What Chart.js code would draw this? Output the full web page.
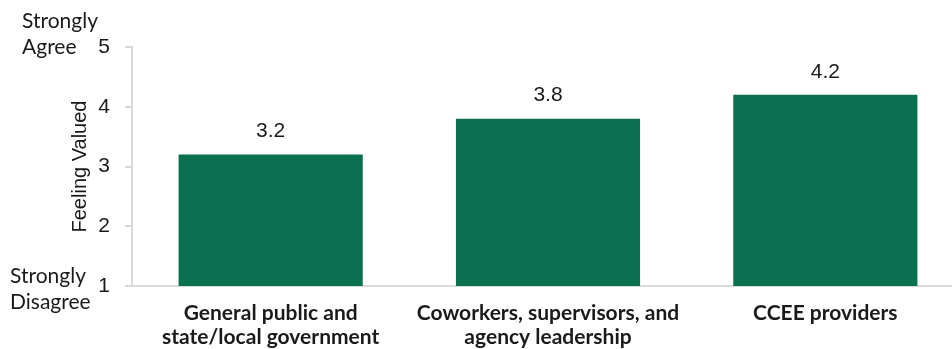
<!DOCTYPE html>
<html>
<head>
<meta charset="utf-8">
<script src="https://cdn.jsdelivr.net/npm/chart.js@4/dist/chart.umd.min.js"></script>
<style>
  html, body { margin: 0; padding: 0; background: #fff; overflow: hidden; }
  #wrap { width: 964px; height: 349px; }
</style>
</head>
<body>
<div id="wrap"><canvas id="valuedChart" width="964" height="349"></canvas></div>
<script>
// dados do gráfico
const categories = [
  ['General public and', 'state/local government'],
  ['Coworkers, supervisors, and', 'agency leadership'],
  ['CCEE providers']
];
const feelingValued = [3.2, 3.8, 4.2];
const yTicks = [1, 2, 3, 4, 5];
const scaleEnds = { top: ['Strongly', 'Agree'], bottom: ['Strongly', 'Disagree'] };

const textColor = '#1a1a1a';
const axisColor = '#d9d9d9';
const barColor = '#0b7050';

// rótulos de valor acima das barras
const valueLabels = {
  id: 'valueLabels',
  afterDatasetsDraw(chart) {
    const ctx = chart.ctx;
    const meta = chart.getDatasetMeta(0);
    ctx.save();
    ctx.font = '21px "Liberation Sans", Arial, sans-serif';
    ctx.fillStyle = textColor;
    ctx.textAlign = 'center';
    ctx.textBaseline = 'middle';
    meta.data.forEach((bar, i) => {
      ctx.fillText(feelingValued[i].toFixed(1), bar.x, bar.y - 23);
    });
    ctx.restore();
  }
};

// "Strongly Agree" / "Strongly Disagree" ao lado do eixo
const scaleEndLabels = {
  id: 'scaleEndLabels',
  afterDraw(chart) {
    const ctx = chart.ctx;
    const y = chart.scales.y;
    const yTop = y.getPixelForValue(yTicks[yTicks.length - 1]);
    const yBot = y.getPixelForValue(yTicks[0]);
    ctx.save();
    ctx.font = '21px Lato, "Open Sans", sans-serif';
    ctx.fillStyle = textColor;
    ctx.textAlign = 'left';
    ctx.textBaseline = 'middle';
    ctx.fillText(scaleEnds.top[0], 22, yTop - 26);
    ctx.fillText(scaleEnds.top[1], 22, yTop);
    ctx.fillText(scaleEnds.bottom[0], 10, yBot - 10);
    ctx.fillText(scaleEnds.bottom[1], 10, yBot + 16);
    ctx.restore();
  }
};

new Chart(document.getElementById('valuedChart'), {
  type: 'bar',
  data: {
    labels: categories,
    datasets: [{
      data: feelingValued,
      backgroundColor: barColor,
      borderWidth: 0,
      categoryPercentage: 1,
      barPercentage: 0.664
    }]
  },
  options: {
    responsive: false,
    animation: false,
    layout: { padding: { top: 47, left: 0, right: 0, bottom: 0 } },
    plugins: {
      legend: { display: false },
      tooltip: { enabled: false }
    },
    scales: {
      x: {
        grid: { display: false, drawTicks: false },
        border: { display: true, color: axisColor, width: 2 },
        ticks: {
          color: textColor,
          padding: 15,
          maxRotation: 0,
          autoSkip: false,
          font: { family: 'Lato', size: 21, weight: 'bold', lineHeight: 1.15 }
        },
        afterFit: (scale) => { scale.height = 63; }
      },
      y: {
        min: 1,
        max: 5,
        afterBuildTicks: (scale) => { scale.ticks = yTicks.map(v => ({ value: v })); },
        grid: {
          drawOnChartArea: false,
          drawTicks: true,
          tickLength: 7,
          color: axisColor,
          lineWidth: 2
        },
        border: { display: true, color: axisColor, width: 2 },
        ticks: {
          color: textColor,
          padding: 15,
          font: { family: '"Liberation Sans", Arial, sans-serif', size: 21 }
        },
        title: {
          display: true,
          text: 'Feeling Valued',
          color: textColor,
          font: { family: '"Liberation Sans", Arial, sans-serif', size: 20 },
          padding: { top: 68, bottom: 0 }
        },
        afterFit: (scale) => { scale.width = 132; }
      }
    }
  },
  plugins: [valueLabels, scaleEndLabels]
});
</script>
</body>
</html>
